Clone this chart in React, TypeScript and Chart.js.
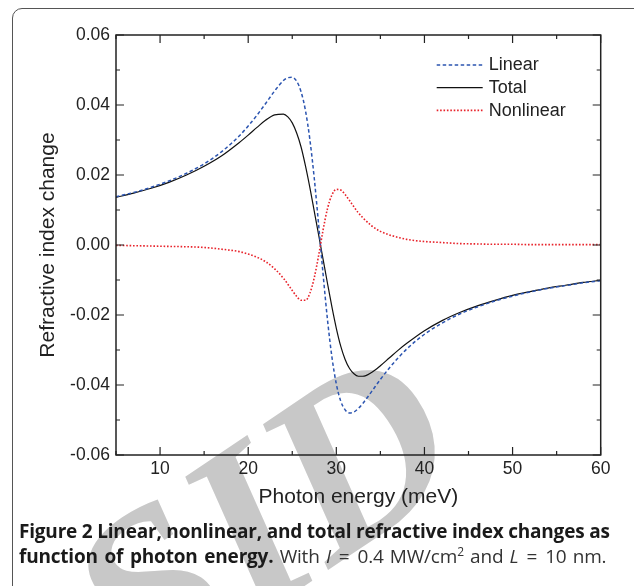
import React, { useEffect, useRef } from "react";
import { Chart, registerables } from "chart.js";

Chart.register(...registerables);

// ---- Data ----
const energy = [
  5, 7, 9, 11, 13, 15, 17, 19, 20, 21, 22, 23, 24, 24.5, 25, 25.5, 26, 26.5, 27, 27.5,
  28, 28.5, 29, 29.5, 30, 30.5, 31, 31.5, 32, 32.5, 33, 34, 35, 36, 37, 38, 40, 42, 44,
  46, 48, 50, 52, 54, 56, 58, 60,
];
const linear = [
  0.0138, 0.015, 0.0165, 0.0183, 0.0205, 0.0232, 0.0267, 0.0312, 0.034, 0.0371, 0.0405,
  0.044, 0.047, 0.0478, 0.0479, 0.0468, 0.0438, 0.0384, 0.0301, 0.019, 0.0056, -0.0084,
  -0.0214, -0.032, -0.0397, -0.0446, -0.0471, -0.048, -0.0477, -0.0467, -0.0453, -0.0419,
  -0.0384, -0.0352, -0.0323, -0.0297, -0.0255, -0.0223, -0.0197, -0.0177, -0.016, -0.0146,
  -0.0134, -0.0124, -0.0116, -0.0108, -0.0102,
];
const total = [
  0.0136, 0.0148, 0.0162, 0.0179, 0.02, 0.0225, 0.0255, 0.0293, 0.0314, 0.0336, 0.0357,
  0.0372, 0.0374, 0.0366, 0.0349, 0.032, 0.028, 0.0226, 0.0164, 0.0096, 0.0028, -0.0041,
  -0.011, -0.0177, -0.0238, -0.0289, -0.0327, -0.0353, -0.0368, -0.0375, -0.0375, -0.0364,
  -0.0345, -0.0323, -0.0301, -0.0281, -0.0245, -0.0216, -0.0193, -0.0174, -0.0158, -0.0144,
  -0.0133, -0.0123, -0.0115, -0.0107, -0.0101,
];
const nonlinear = [
  -0.0001, -0.0002, -0.0003, -0.0004, -0.0005, -0.0007, -0.0012, -0.0019, -0.0026, -0.0035,
  -0.0048, -0.0068, -0.0095, -0.0112, -0.013, -0.0147, -0.0158, -0.0158, -0.0138, -0.0093,
  -0.0029, 0.0043, 0.0104, 0.0143, 0.0159, 0.0157, 0.0144, 0.0127, 0.0109, 0.0092, 0.0078,
  0.0055, 0.0039, 0.0029, 0.0022, 0.0016, 0.001, 0.0007, 0.0004, 0.0003, 0.0002, 0.0002,
  0.0001, 0.0001, 0.0001, 0.0001, 0.0001,
];

const seriesNames = ["Linear", "Total", "Nonlinear"];
const xTickValues = [10, 20, 30, 40, 50, 60];
const xMinorValues = [5, 15, 25, 35, 45, 55];
const yTickValues = [-0.06, -0.04, -0.02, 0, 0.02, 0.04, 0.06];
const yTickLabels = ["-0.06", "-0.04", "-0.02", "0.00", "0.02", "0.04", "0.06"];
const yMinorValues = [-0.05, -0.03, -0.01, 0.01, 0.03, 0.05];
const xTitle = "Photon energy (meV)";
const yTitle = "Refractive index change";

const FONT = '"Liberation Sans", Arial, Helvetica, sans-serif';
const INK = "#222";

const toPoints = (ys: number[]) => energy.map((x, i) => ({ x, y: ys[i] }));

const framePlugin = {
  id: "frameTicksLegend",
  afterDatasetsDraw(chart: any) {
    const { ctx, chartArea, scales } = chart;
    const { left, right, top, bottom } = chartArea;
    const xs = scales.x;
    const ys = scales.y;
    ctx.save();
    ctx.strokeStyle = INK;
    ctx.lineWidth = 1.5;
    ctx.setLineDash([]);
    ctx.strokeRect(left, top, right - left, bottom - top);
    ctx.lineWidth = 1.2;
    const major = 8;
    const minor = 4;
    ctx.beginPath();
    const xt = (vals: number[], len: number) => {
      for (const v of vals) {
        const p = xs.getPixelForValue(v);
        ctx.moveTo(p, bottom);
        ctx.lineTo(p, bottom - len);
        ctx.moveTo(p, top);
        ctx.lineTo(p, top + len);
      }
    };
    const yt = (vals: number[], len: number) => {
      for (const v of vals) {
        const p = ys.getPixelForValue(v);
        ctx.moveTo(left, p);
        ctx.lineTo(left + len, p);
        ctx.moveTo(right, p);
        ctx.lineTo(right - len, p);
      }
    };
    xt(xTickValues, major);
    xt(xMinorValues, minor);
    yt(yTickValues, major);
    yt(yMinorValues, minor);
    ctx.stroke();

    // legend (inside plot, top-right)
    const order = [1, 2, 0];
    const x0 = right - 164;
    const x1 = right - 118;
    const tx = right - 112;
    let y = top + 30;
    ctx.font = `18px ${FONT}`;
    ctx.textBaseline = "middle";
    ctx.textAlign = "left";
    order.forEach((di, k) => {
      const ds = chart.data.datasets[di];
      ctx.beginPath();
      ctx.strokeStyle = ds.borderColor;
      ctx.lineWidth = ds.borderWidth;
      ctx.setLineDash(ds.borderDash || []);
      ctx.moveTo(x0, y);
      ctx.lineTo(x1, y);
      ctx.stroke();
      ctx.setLineDash([]);
      ctx.fillStyle = INK;
      ctx.fillText(seriesNames[k], tx, y + 0.5);
      y += 22.7;
    });
    ctx.restore();
  },
};

export default function App() {
  const canvasRef = useRef<HTMLCanvasElement | null>(null);

  useEffect(() => {
    if (!canvasRef.current) return;
    const chart = new Chart(canvasRef.current, {
      type: "line",
      data: {
        datasets: [
          {
            label: seriesNames[2],
            data: toPoints(nonlinear),
            borderColor: "#e8232b",
            borderWidth: 1.6,
            borderDash: [1.6, 1.8],
            pointRadius: 0,
            cubicInterpolationMode: "monotone",
            fill: false,
          },
          {
            label: seriesNames[0],
            data: toPoints(linear),
            borderColor: "#2b54b0",
            borderWidth: 1.5,
            borderDash: [3.5, 2.5],
            pointRadius: 0,
            cubicInterpolationMode: "monotone",
            fill: false,
          },
          {
            label: seriesNames[1],
            data: toPoints(total),
            borderColor: "#111",
            borderWidth: 1.2,
            pointRadius: 0,
            cubicInterpolationMode: "monotone",
            fill: false,
          },
        ],
      },
      options: {
        animation: false,
        responsive: false,
        devicePixelRatio: 1,
        layout: { padding: { left: 0, top: 35, right: 33.3, bottom: 0 } },
        plugins: { legend: { display: false }, tooltip: { enabled: false } },
        scales: {
          x: {
            type: "linear",
            min: 5,
            max: 60,
            afterBuildTicks: (s: any) => {
              s.ticks = xTickValues.map((v) => ({ value: v }));
            },
            afterFit: (s: any) => {
              s.height = 65;
            },
            grid: { display: false, drawTicks: false },
            border: { display: false },
            ticks: {
              autoSkip: false,
              maxRotation: 0,
              padding: 4,
              color: INK,
              font: { family: FONT, size: 17.5 },
              callback: (v: any) => String(v),
            },
            title: {
              display: true,
              text: xTitle,
              color: INK,
              font: { family: FONT, size: 21 },
              padding: { top: 0, bottom: 10 },
            },
          },
          y: {
            type: "linear",
            min: -0.06,
            max: 0.06,
            afterBuildTicks: (s: any) => {
              s.ticks = yTickValues.map((v) => ({ value: v }));
            },
            afterFit: (s: any) => {
              s.width = 116;
            },
            grid: { display: false, drawTicks: false },
            border: { display: false },
            ticks: {
              autoSkip: false,
              padding: 6,
              color: INK,
              font: { family: FONT, size: 17.5 },
              callback: (v: any) => {
                const i = yTickValues.findIndex((t) => Math.abs(t - v) < 1e-9);
                return i >= 0 ? yTickLabels[i] : "";
              },
            },
            title: {
              display: true,
              text: yTitle,
              color: INK,
              font: { family: FONT, size: 21 },
              padding: { top: 36, bottom: 0 },
            },
          },
        },
      },
      plugins: [framePlugin],
    } as any);
    return () => chart.destroy();
  }, []);

  const capFont = '"Open Sans", "Noto Sans", Lato, sans-serif';
  const eq = <span style={{ margin: "0 8px" }}>=</span>;

  return (
    <div
      style={{
        position: "fixed",
        left: 0,
        top: 0,
        width: 634,
        height: 586,
        overflow: "hidden",
        background: "#fff",
      }}
    >
      <div
        style={{
          position: "absolute",
          left: 12,
          top: 8,
          width: 720,
          height: 720,
          border: "1px solid #555",
          borderRadius: 10,
          boxSizing: "border-box",
        }}
      />
      <div
        style={{
          position: "absolute",
          left: 62,
          top: 392,
          width: 400,
          height: 250,
          fontFamily: '"Liberation Serif", "DejaVu Serif", serif',
          fontStyle: "italic",
          fontWeight: "bold",
          fontSize: 240,
          lineHeight: "250px",
          color: "#c8c8c8",
          transform: "rotate(-34deg)",
          transformOrigin: "50% 50%",
          whiteSpace: "nowrap",
          textAlign: "center",
          zIndex: 0,
          userSelect: "none",
        }}
      >
        SID
      </div>
      <canvas
        ref={canvasRef}
        width={634}
        height={520}
        style={{ position: "absolute", left: 0, top: 0, width: 634, height: 520, display: "block", zIndex: 1 }}
      />
      <div
        style={{
          position: "absolute",
          left: 19,
          top: 519,
          width: 620,
          fontFamily: capFont,
          fontSize: 19,
          lineHeight: "25px",
          color: "#333",
          whiteSpace: "nowrap",
          letterSpacing: -0.2,
          zIndex: 1,
        }}
      >
        <div>
          <b style={{ color: "#1a1a1a" }}>
            Figure 2 Linear, nonlinear, and total refractive index changes as
          </b>
        </div>
        <div style={{ wordSpacing: 1.5 }}>
          <b style={{ color: "#1a1a1a", wordSpacing: 2 }}>function of photon energy.</b> With{" "}
          <i>I</i>
          {eq}0.4 MW/cm
          <sup style={{ fontSize: 12, lineHeight: 0 }}>2</sup> and <i>L</i>
          {eq}10 nm.
        </div>
      </div>
    </div>
  );
}
